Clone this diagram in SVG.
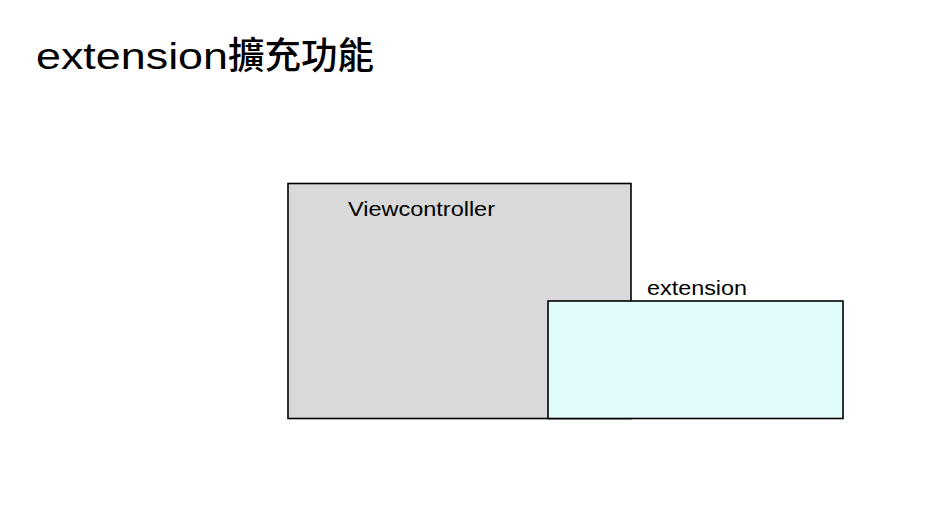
<svg xmlns="http://www.w3.org/2000/svg" width="940" height="506" viewBox="0 0 940 506">
<style>
.t{font-family:"Liberation Sans","Noto Sans CJK TC",sans-serif;fill:#000}
.box{stroke:#000;stroke-width:1.6}
</style>
<rect width="940" height="506" fill="#fff"/>
<text class="t" x="36" y="69" font-size="37"><tspan textLength="192" lengthAdjust="spacingAndGlyphs">extension</tspan><tspan x="228" font-family="Noto Sans CJK TC" font-weight="500" textLength="146" lengthAdjust="spacingAndGlyphs">擴充功能</tspan></text>
<g id="viewcontroller">
<rect class="box" x="288" y="183.5" width="343" height="235" fill="#d9d9d9"/>
<text class="t" x="348" y="216" font-size="20" textLength="147" lengthAdjust="spacingAndGlyphs">Viewcontroller</text>
</g>
<g id="extension">
<rect class="box" x="548" y="301" width="295" height="117.5" fill="#e0fdfb"/>
<text class="t" x="647" y="295" font-size="20" textLength="100" lengthAdjust="spacingAndGlyphs">extension</text>
</g>
<g id="connectors"/>
</svg>
